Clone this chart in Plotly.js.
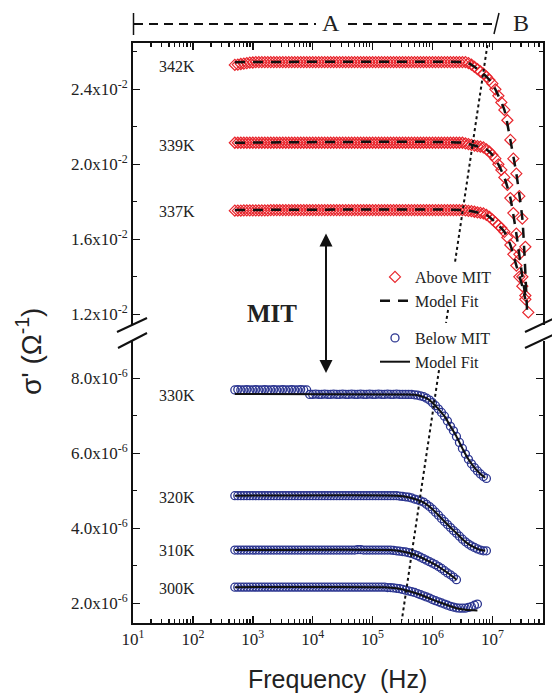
<!DOCTYPE html>
<html><head><meta charset="utf-8">
<script src="https://cdn.plot.ly/plotly-3.0.1.min.js"></script>
<style>html,body{margin:0;padding:0;background:#fff}#chart{width:552px;height:696px}</style>
</head><body><div id="chart"></div>
<script>
// shared measurement grid (log10 of frequency in Hz)
const logF = [2.70,2.75,2.80,2.85,2.90,2.95,3.00,3.05,3.10,3.15,3.20,3.25,3.30,3.35,3.40,3.45,3.50,3.55,3.60,3.65,3.70,3.75,3.80,3.85,3.90,3.95,4.00,4.05,4.10,4.15,4.20,4.25,4.30,4.35,4.40,4.45,4.50,4.55,4.60,4.65,4.70,4.75,4.80,4.85,4.90,4.95,5.00,5.05,5.10,5.15,5.20,5.25,5.30,5.35,5.40,5.45,5.50,5.55,5.60,5.65,5.70,5.75,5.80,5.85,5.90,5.95,6.00,6.05,6.10,6.15,6.20,6.25,6.30,6.35,6.40,6.45,6.50,6.55,6.60,6.65,6.70,6.75,6.80,6.85,6.90,6.95,7.00,7.05,7.10,7.15,7.20,7.25,7.30,7.35,7.40,7.45,7.50,7.55,7.60];

// Above MIT (units 1e-2 S)
const s342 = [2.530,2.532,2.535,2.537,2.540,2.542,2.543,2.545,2.545,2.545,2.545,2.545,2.545,2.545,2.545,2.545,2.545,2.545,2.545,2.545,2.545,2.545,2.545,2.545,2.545,2.545,2.545,2.545,2.545,2.545,2.545,2.545,2.545,2.545,2.545,2.545,2.545,2.545,2.545,2.545,2.545,2.545,2.545,2.545,2.545,2.545,2.545,2.545,2.545,2.545,2.545,2.545,2.545,2.545,2.545,2.545,2.545,2.545,2.545,2.545,2.545,2.545,2.545,2.545,2.545,2.545,2.545,2.545,2.545,2.545,2.545,2.545,2.545,2.545,2.545,2.545,2.545,2.545,
  2.540,2.532,2.520,2.508,2.495,2.483,2.468,2.450,2.430,2.400,2.365,2.330,2.290,2.235,2.130,2.030,1.950,1.830,1.710,1.560,1.210];
const s339 = [2.115,2.115,2.115,2.115,2.115,2.115,2.115,2.115,2.115,2.115,2.115,2.115,2.115,2.115,2.115,2.115,2.115,2.115,2.115,2.115,2.115,2.115,2.115,2.115,2.115,2.115,2.115,2.115,2.115,2.115,2.115,2.115,2.115,2.115,2.115,2.115,2.115,2.115,2.115,2.115,2.115,2.115,2.115,2.115,2.115,2.115,2.115,2.115,2.115,2.115,2.115,2.115,2.115,2.115,2.115,2.115,2.115,2.115,2.115,2.115,2.115,2.115,2.115,2.115,2.115,2.115,2.115,2.115,2.115,2.115,2.115,2.115,2.115,2.115,2.115,2.115,2.115,
  2.112,2.108,2.104,2.100,2.097,2.094,2.090,2.080,2.067,2.050,2.030,2.000,1.970,1.930,1.890,1.820,1.740,1.630,1.520,1.400,1.300];
const s337 = [1.753,1.753,1.753,1.754,1.754,1.754,1.754,1.754,1.754,1.754,1.754,1.754,1.756,1.756,1.756,1.756,1.756,1.756,1.756,1.756,1.756,1.756,1.756,1.756,1.756,1.756,1.756,1.756,1.756,1.756,1.756,1.756,1.756,1.756,1.756,1.756,1.756,1.756,1.756,1.756,1.756,1.756,1.756,1.756,1.756,1.756,1.756,1.756,1.756,1.756,1.756,1.756,1.756,1.756,1.756,1.756,1.756,1.756,1.756,1.756,1.756,1.756,1.756,1.756,1.756,1.756,1.756,1.756,1.756,1.756,1.756,1.756,1.756,1.756,1.756,1.756,1.756,
  1.754,1.752,1.750,1.747,1.744,1.741,1.738,1.730,1.720,1.705,1.690,1.675,1.660,1.640,1.610,1.570,1.520,1.460,1.400,1.350,1.280];

// Below MIT (units 1e-6 S)
const s330 = [7.69,7.70,7.69,7.69,7.70,7.69,7.69,7.70,7.69,7.69,7.70,7.69,7.69,7.70,7.69,7.69,7.70,7.69,7.69,7.70,7.69,7.69,7.70,7.69,7.69,
  7.57,7.57,7.58,7.57,7.57,7.58,7.57,7.57,7.58,7.57,7.57,7.58,7.57,7.57,7.58,7.57,7.57,7.58,7.57,7.57,7.58,7.57,7.57,7.58,7.57,7.57,7.58,7.57,7.57,7.58,7.57,
  7.57,7.57,7.57,7.57,7.56,7.55,7.53,7.51,7.47,7.42,7.35,7.27,7.18,7.09,6.99,6.86,6.72,6.60,6.45,6.29,6.13,5.98,5.84,5.72,5.62,5.53,5.45,5.38,5.33];
const s320 = [4.87,4.87,4.87,4.87,4.87,4.87,4.87,4.87,4.87,4.87,4.87,4.87,4.87,4.87,4.87,4.87,4.87,4.87,4.87,4.87,4.87,4.87,4.87,4.87,4.87,4.87,4.87,4.87,4.87,4.87,4.87,4.87,4.87,4.87,4.87,4.87,4.87,4.87,4.87,4.87,4.87,4.87,4.87,4.87,4.87,4.87,4.87,4.87,4.87,4.87,4.87,4.87,4.87,4.87,4.87,
  4.86,4.85,4.84,4.83,4.81,4.78,4.76,4.73,4.70,4.64,4.58,4.51,4.43,4.35,4.26,4.18,4.10,4.02,3.94,3.87,3.79,3.71,3.64,3.58,3.53,3.49,3.45,3.42,3.40,3.40];
const s310 = [3.42,3.42,3.42,3.42,3.42,3.42,3.42,3.42,3.42,3.42,3.42,3.42,3.42,3.42,3.42,3.42,3.42,3.42,3.42,3.42,3.42,3.42,3.42,3.42,3.42,3.42,3.42,3.42,3.42,3.42,3.42,3.42,3.42,3.42,3.42,3.42,3.42,3.42,3.42,3.42,3.42,3.43,3.43,3.42,3.42,3.42,3.42,3.42,3.42,3.42,3.42,3.42,3.42,
  3.41,3.40,3.39,3.38,3.37,3.35,3.33,3.30,3.27,3.23,3.19,3.15,3.11,3.07,3.03,2.98,2.93,2.87,2.81,2.76,2.70,2.63];
const s300 = [2.43,2.43,2.43,2.43,2.43,2.43,2.43,2.43,2.43,2.43,2.43,2.43,2.43,2.43,2.43,2.43,2.43,2.43,2.43,2.43,2.43,2.43,2.43,2.43,2.43,2.43,2.43,2.43,2.43,2.43,2.43,2.43,2.43,2.43,2.43,2.43,2.43,2.43,2.43,2.43,2.43,2.43,2.43,2.43,2.43,2.43,2.43,2.43,2.43,2.43,2.43,
  2.42,2.42,2.41,2.40,2.39,2.37,2.35,2.33,2.31,2.29,2.26,2.23,2.20,2.17,2.14,2.10,2.07,2.04,2.01,1.98,1.95,1.92,1.90,1.88,1.87,1.87,1.87,1.89,1.91,1.95,1.98];

// model fits (log10 f, value)
const fit342F = [2.70,6.50,6.60,6.70,6.80,6.90,7.00,7.10,7.20,7.30,7.40,7.50,7.58];
const fit342V = [2.545,2.545,2.540,2.520,2.495,2.468,2.430,2.365,2.290,2.130,1.950,1.710,1.210];
const fit339F = [2.70,6.50,6.70,6.90,7.00,7.10,7.20,7.30,7.40,7.50,7.55];
const fit339V = [2.115,2.115,2.100,2.080,2.050,2.000,1.930,1.820,1.630,1.400,1.300];
const fit337F = [2.70,6.50,6.70,6.90,7.00,7.10,7.20,7.30,7.40,7.50,7.55];
const fit337V = [1.756,1.756,1.747,1.730,1.705,1.675,1.640,1.570,1.460,1.350,1.280];
const fit330F = [2.70,5.60,5.70,5.80,5.90,6.00,6.10,6.20,6.30,6.40,6.50,6.60,6.70,6.80,6.88];
const fit330V = [7.58,7.57,7.56,7.53,7.47,7.35,7.18,6.99,6.72,6.45,6.13,5.84,5.62,5.45,5.35];
const fit320F = [2.70,5.40,5.60,5.80,5.90,6.00,6.10,6.20,6.30,6.40,6.50,6.60,6.70,6.80,6.88];
const fit320V = [4.87,4.87,4.83,4.73,4.64,4.51,4.35,4.18,4.02,3.87,3.71,3.58,3.49,3.42,3.40];
const fit310F = [2.70,5.30,5.50,5.70,5.90,6.10,6.20,6.30,6.40];
const fit310V = [3.42,3.42,3.38,3.30,3.15,2.98,2.87,2.76,2.63];
const fit300F = [2.70,5.20,5.40,5.60,5.80,6.00,6.20,6.40,6.55,6.75];
const fit300V = [2.43,2.43,2.40,2.33,2.23,2.10,1.98,1.87,1.83,1.81];

// dotted A/B boundary guide (Hz, value)
const guideUpF = [8.26e6,2.38e6,null,1.82e6,1.68e6];
const guideUpV = [2.636,1.479,null,1.223,1.154];
const guideLoF = [1.285e6,3.08e5];
const guideLoV = [8.22,1.555];

const upperLabels = ['342K','339K','337K'];
const upperLabelY = [2.52,2.103,1.747];
const lowerLabels = ['330K','320K','310K','300K'];
const lowerLabelY = [7.555,4.816,3.42,2.40];

const xTickVals = [1e1,1e2,1e3,1e4,1e5,1e6,1e7];
const xTickText = ['10<sup>1</sup>','10<sup>2</sup>','10<sup>3</sup>','10<sup>4</sup>','10<sup>5</sup>','10<sup>6</sup>','10<sup>7</sup>'];
const yUpTickVals = [0.012,0.016,0.020,0.024];
const yUpTickText = ['1.2x10<sup>-2</sup>','1.6x10<sup>-2</sup>','2.0x10<sup>-2</sup>','2.4x10<sup>-2</sup>'];
const yLoTickVals = [2e-6,4e-6,6e-6,8e-6];
const yLoTickText = ['2.0x10<sup>-6</sup>','4.0x10<sup>-6</sup>','6.0x10<sup>-6</sup>','8.0x10<sup>-6</sup>'];

// ---- build ----
const RED = '#e8262d', BLUE = '#2b3590';
const hz = a => a.map(v => Math.pow(10, v));
const sc = (a, k) => a.map(v => v == null ? null : v * k);
const traces = [];
[s342, s339, s337].forEach((s, i) => traces.push({
  x: hz(logF.slice(0, s.length)), y: sc(s, 1e-2), xaxis: 'x', yaxis: 'y2', mode: 'markers',
  type: 'scatter', name: 'Above MIT', legend: 'legend', showlegend: i === 0,
  marker: {symbol: 'diamond-open', size: 8.5, color: RED, line: {width: 1.2, color: RED}}
}));
[[fit342F, fit342V], [fit339F, fit339V], [fit337F, fit337V]].forEach((f, i) => traces.push({
  x: hz(f[0]), y: sc(f[1], 1e-2), xaxis: 'x', yaxis: 'y2', mode: 'lines', type: 'scatter',
  name: 'Model Fit', legend: 'legend', showlegend: i === 0,
  line: {color: '#111', width: 2.5, dash: '10px,8px', shape: 'spline', smoothing: 0.6}
}));
[s330, s320, s310, s300].forEach((s, i) => traces.push({
  x: hz(logF.slice(0, s.length)), y: sc(s, 1e-6), xaxis: 'x', yaxis: 'y', mode: 'markers',
  type: 'scatter', name: 'Below MIT', legend: 'legend2', showlegend: i === 0,
  marker: {symbol: 'circle-open', size: 8, color: BLUE, line: {width: 1.3, color: BLUE}}
}));
[[fit330F, fit330V], [fit320F, fit320V], [fit310F, fit310V], [fit300F, fit300V]].forEach((f, i) => traces.push({
  x: hz(f[0]), y: sc(f[1], 1e-6), xaxis: 'x', yaxis: 'y', mode: 'lines', type: 'scatter',
  name: 'Model Fit', legend: 'legend2', showlegend: i === 0,
  line: {color: '#111', width: 2, shape: 'spline', smoothing: 0.6}
}));
traces.push({x: guideUpF, y: sc(guideUpV, 1e-2), xaxis: 'x', yaxis: 'y2', mode: 'lines', type: 'scatter',
  showlegend: false, connectgaps: false, line: {color: '#111', width: 2, dash: 'dot'}});
traces.push({x: guideLoF, y: sc(guideLoV, 1e-6), xaxis: 'x', yaxis: 'y', mode: 'lines', type: 'scatter',
  showlegend: false, line: {color: '#111', width: 2, dash: 'dot'}});
traces.push({x: [], y: [], xaxis: 'x2', yaxis: 'y2', type: 'scatter', mode: 'markers', showlegend: false});

const minorX = [];
for (let d = 1; d <= 7; d++) for (let m = 2; m <= 9; m++) minorX.push(m * Math.pow(10, d));

const SERIF = 'Liberation Serif, Times New Roman, serif';
const SANS = 'Liberation Sans, Arial, sans-serif';
const axCommon = {showline: true, linewidth: 2, linecolor: '#111', ticks: 'inside', ticklen: 7, tickwidth: 1.5,
  tickcolor: '#111', showgrid: false, zeroline: false, tickfont: {family: SERIF, size: 17, color: '#222'}};

const px = p => (p - 133) / 410, py = p => (623 - p) / 580;
const ln = (x0, y0, x1, y1, w, dash) => ({type: 'line', xref: 'paper', yref: 'paper', x0: px(x0), y0: py(y0), x1: px(x1), y1: py(y1),
  line: {color: '#111', width: w || 2, dash: dash || 'solid'}});

const annotations = [];
upperLabels.forEach((t, i) => annotations.push({xref: 'x', yref: 'y2', x: 1.73, y: upperLabelY[i] * 1e-2, text: t,
  showarrow: false, font: {family: SERIF, size: 16, color: '#222'}}));
lowerLabels.forEach((t, i) => annotations.push({xref: 'x', yref: 'y', x: 1.73, y: lowerLabelY[i] * 1e-6, text: t,
  showarrow: false, font: {family: SERIF, size: 16, color: '#222'}}));
annotations.push({xref: 'paper', yref: 'paper', x: px(272), y: py(313), text: '<b>MIT</b>', showarrow: false,
  font: {family: SERIF, size: 25, color: '#222'}});
annotations.push({xref: 'paper', yref: 'paper', x: px(326), y: py(373), ax: 0, ay: -141, axref: 'pixel', ayref: 'pixel',
  text: '', showarrow: true, arrowside: 'end+start', arrowhead: 2, arrowsize: 1.3, arrowwidth: 2, arrowcolor: '#111', standoff: 0, startstandoff: 0});
annotations.push({xref: 'paper', yref: 'paper', x: px(331), y: py(23), xanchor: 'center', yanchor: 'middle', text: 'A', showarrow: false,
  font: {family: SERIF, size: 24, color: '#222'}});
annotations.push({xref: 'paper', yref: 'paper', x: px(521), y: py(23), xanchor: 'center', yanchor: 'middle', text: 'B', showarrow: false,
  font: {family: SERIF, size: 24, color: '#222'}});
annotations.push({xref: 'paper', yref: 'paper', x: px(337), y: py(679), xanchor: 'center', yanchor: 'middle', text: 'Frequency\u00a0 (Hz)', showarrow: false,
  font: {family: SANS, size: 25, color: '#222'}});
annotations.push({xref: 'paper', yref: 'paper', x: px(29), y: py(352), xanchor: 'center', yanchor: 'middle', text: "\u03c3' (\u03a9<sup>-1</sup>)", textangle: -90, showarrow: false,
  font: {family: SANS, size: 28, color: '#222'}});

const shapes = [
  ln(117, 332, 147, 318), ln(118, 348, 147, 333),
  ln(525, 332, 557, 317), ln(525, 348, 557, 333),
  ln(133.5, 13, 133.5, 35, 1.5), ln(134, 24, 316, 24, 1.8, '9px,6px'), ln(348, 24, 494, 24, 1.8, '9px,6px'),
  ln(494, 34, 499, 13, 1.5)
];

const legFont = {family: SERIF, size: 16, color: '#222'};
const layout = {
  width: 552, height: 696, autosize: false,
  margin: {l: 133, r: 9, t: 43, b: 73, pad: 0},
  paper_bgcolor: '#fff', plot_bgcolor: '#fff', showlegend: true,
  font: {family: SERIF, color: '#222'},
  xaxis: Object.assign({}, axCommon, {type: 'log', range: [1, 7.845], anchor: 'y', domain: [0, 1],
    tickmode: 'array', tickvals: xTickVals, ticktext: xTickText,
    minor: {tickmode: 'array', tickvals: minorX, ticks: 'inside', ticklen: 4, tickwidth: 1.2, tickcolor: '#111'}}),
  xaxis2: Object.assign({}, axCommon, {type: 'log', range: [1, 7.845], anchor: 'y2', overlaying: 'x', side: 'top',
    matches: 'x', showticklabels: false, tickmode: 'array', tickvals: xTickVals,
    minor: {tickmode: 'array', tickvals: minorX, ticks: 'inside', ticklen: 4, tickwidth: 1.2, tickcolor: '#111'}}),
  yaxis: Object.assign({}, axCommon, {domain: [0, py(341)], range: [1.475e-6, 8.995e-6], anchor: 'x', mirror: 'ticks',
    tickmode: 'array', tickvals: yLoTickVals, ticktext: yLoTickText,
    minor: {tickmode: 'array', tickvals: [3e-6, 5e-6, 7e-6], ticks: 'inside', ticklen: 4, tickwidth: 1.2, tickcolor: '#111'}}),
  yaxis2: Object.assign({}, axCommon, {domain: [py(325), 1], range: [1.143e-2, 2.647e-2], anchor: 'x', mirror: 'ticks',
    tickmode: 'array', tickvals: yUpTickVals, ticktext: yUpTickText,
    minor: {tickmode: 'array', tickvals: [0.014, 0.018, 0.022, 0.026], ticks: 'inside', ticklen: 4, tickwidth: 1.2, tickcolor: '#111'}}),
  legend: {x: px(375), y: py(260), xanchor: 'left', yanchor: 'top', bgcolor: 'rgba(0,0,0,0)',
    font: legFont, traceorder: 'normal', itemwidth: 30},
  legend2: {x: px(375), y: py(321), xanchor: 'left', yanchor: 'top', bgcolor: 'rgba(0,0,0,0)',
    font: legFont, traceorder: 'normal', itemwidth: 30},
  annotations: annotations,
  shapes: shapes
};

Plotly.newPlot('chart', traces, layout, {staticPlot: true, displayModeBar: false});
</script></body></html>
